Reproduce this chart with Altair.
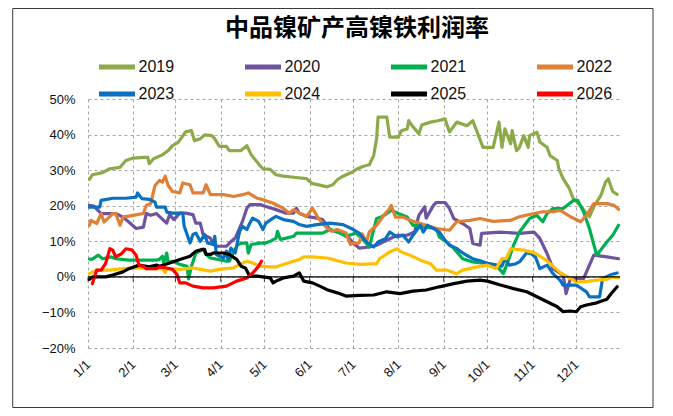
import altair as alt
import pandas as pd

title_text = "中品镍矿产高镍铁利润率"
years = ["2019", "2020", "2021", "2022", "2023", "2024", "2025", "2026"]
colors = ["#8DAA4B", "#6E53A0", "#00B050", "#E07F36", "#0A70C0", "#FFC000", "#000000", "#FF0000"]

month_days = [0, 31, 60, 91, 121, 152, 182, 213, 244, 274, 305, 335]
month_labels = ["1/1", "2/1", "3/1", "4/1", "5/1", "6/1", "7/1", "8/1", "9/1", "10/1", "11/1", "12/1"]
y_ticks = [-20, -10, 0, 10, 20, 30, 40, 50]

d19 = [1,3,10,15,22,26,31,38,41,42,45,51,55,58,62,64,67,71,73,77,80,85,87,90,95,97,105,109,112,118,120,125,129,134,141,150,154,159,164,168,171,175,181,185,189,193,196,198,199,205,207,213,215,219,220,222,227,229,235,240,245,248,253,260,264,267,271,278,282,284,286,290,291,294,296,299,302,303,308,310,315,317,322,323,326,330,333,338,341,344,347,349,352,355,357,360,363]
v19 = [27.4,28.7,29.3,30.4,30.8,32.7,33.4,33.6,33.6,31.8,33.2,34.3,35.5,36.9,37.9,39.0,40.8,41.1,38.3,38.8,39.9,39.7,38.8,36.7,36.7,35.5,35.5,36.9,34.3,31.3,30.4,30.2,28.7,28.3,28.0,27.6,26.2,25.8,25.3,25.9,27.3,28.3,29.4,30.4,31.1,31.5,34.1,38.8,44.9,44.9,39.3,39.3,41.1,41.6,43.9,42.7,40.2,42.7,43.5,43.9,44.4,40.7,43.5,42.5,43.9,40.7,36.4,36.4,43.5,36.4,41.6,37.4,41.1,35.5,36.4,39.7,36.4,39.7,40.7,37.9,36.4,34.1,32.7,30.4,27.6,25.0,22.0,20.0,18.3,16.9,19.7,21.0,23.0,26.6,27.6,24.0,23.2]

d20 = [1,4,9,19,24,28,33,38,40,43,47,49,54,56,59,63,67,72,74,77,79,84,86,89,95,97,101,104,106,109,111,118,122,129,136,141,143,145,150,157,161,166,173,177,182,186,193,198,205,212,219,224,227,231,232,237,239,245,248,251,257,262,264,269,270,283,296,306,310,315,319,326,328,331,340,342,347,356,364]
v20 = [20.1,19.9,17.8,17.8,16.8,15.4,13.6,14.0,17.8,17.3,17.8,17.0,15.1,17.5,16.1,17.9,17.9,17.5,15.1,15.1,11.9,10.9,9.1,8.6,8.6,9.5,10.9,13.7,15.6,19.3,20.3,20.3,19.8,18.9,17.9,17.9,19.3,17.9,17.0,16.5,16.1,13.3,12.3,11.9,9.5,8.1,8.4,8.9,10.3,11.7,11.7,12.6,17.3,19.7,16.5,20.1,20.9,20.9,19.2,16.4,15.0,13.6,9.4,8.9,12.2,12.6,12.2,12.6,10.8,6.5,2.3,0.5,-4.7,-0.5,-0.5,1.4,6.1,5.6,5.1]

d21 = [1,3,7,10,16,19,28,38,47,49,51,52,54,55,58,63,68,69,71,74,79,81,84,89,95,97,100,103,106,109,110,112,118,122,125,129,130,132,136,141,143,150,161,166,173,177,184,189,193,198,201,205,208,213,219,223,228,232,239,241,246,251,257,264,274,280,285,288,292,296,303,308,312,315,319,326,333,336,340,344,349,356,360,364]
v21 = [5.0,5.0,6.1,5.1,5.6,5.1,4.7,4.7,4.7,4.9,5.8,3.9,6.7,4.0,4.4,3.5,3.0,-0.6,3.0,6.7,7.7,6.3,5.3,4.9,4.4,4.4,7.2,9.1,9.5,9.5,6.7,9.1,9.5,9.5,10.0,10.9,12.8,10.5,10.9,11.4,12.3,12.3,12.3,13.3,12.3,11.4,12.3,10.3,8.4,16.4,16.8,17.8,18.7,17.8,16.8,14.5,14.5,14.0,13.6,11.2,9.8,8.0,5.1,4.2,3.7,3.3,0.9,4.2,8.9,12.6,16.4,17.3,15.5,17.8,19.2,19.2,21.5,21.5,18.3,13.6,6.1,9.8,11.7,14.5]

d22 = [1,2,6,9,11,17,19,22,24,31,38,40,43,46,49,51,53,55,58,63,65,70,72,79,81,84,93,100,106,110,116,120,127,134,138,141,145,150,154,158,164,167,171,177,180,182,186,188,191,193,198,203,207,208,211,216,221,228,232,239,248,253,262,269,278,290,296,306,312,319,324,331,338,342,347,356,361,364]
v22 = [14.5,15.9,15.0,17.8,15.4,17.8,17.8,14.5,16.8,17.3,17.8,20.1,20.6,25.7,27.1,26.6,28.3,25.7,24.0,23.6,26.4,25.9,23.6,23.6,25.9,23.1,23.1,22.6,23.1,23.6,22.1,21.7,20.7,19.3,17.9,18.9,17.9,17.0,19.3,16.5,13.7,12.8,13.3,12.3,9.1,9.5,9.5,12.1,9.8,12.6,14.5,17.3,19.2,20.1,16.8,16.8,15.9,15.0,14.5,13.6,13.1,15.5,15.9,16.4,15.6,15.9,16.9,17.8,18.3,18.3,18.7,16.9,15.5,17.3,20.6,20.6,20.1,19.0]

d23 = [1,8,9,17,26,33,34,37,42,46,47,53,54,58,65,66,70,72,74,77,80,82,86,87,88,93,95,96,98,101,104,106,109,111,113,117,120,122,127,129,134,141,145,150,157,166,175,182,186,191,196,199,204,207,212,216,220,223,228,230,233,237,241,245,248,253,256,260,264,269,274,280,284,286,289,293,296,301,304,307,310,315,319,324,326,335,342,344,351,353,358,363]
v23 = [19.6,19.6,21.5,22.1,22.1,22.4,23.6,22.0,21.8,21.0,19.6,19.6,18.2,17.9,17.9,14.2,9.5,11.9,12.3,10.0,11.9,9.5,9.1,11.4,6.3,5.3,7.2,4.9,8.1,6.7,12.8,14.2,13.3,15.1,16.5,15.6,13.3,15.1,16.5,17.0,16.1,15.6,14.7,14.2,14.7,15.1,14.7,13.3,12.3,9.8,8.4,9.8,10.7,12.6,11.2,11.7,9.8,11.7,14.5,12.6,14.5,13.6,12.6,10.3,8.9,8.0,7.0,6.0,5.1,4.5,3.8,3.3,3.0,5.1,3.3,3.6,4.2,6.8,6.5,5.6,2.3,3.3,0.9,-1.0,-2.3,-2.3,-4.2,-5.6,-5.6,-0.5,0.5,1.1]

d24 = [1,6,15,24,33,42,51,53,54,63,72,77,84,90,100,104,109,113,118,125,129,134,141,145,148,154,164,168,177,187,198,200,207,212,215,221,228,235,239,246,253,257,267,274,280,284,287,290,299,306,310,315,319,324,328,335,340,344,349,356,360,364]
v24 = [0.9,1.9,1.9,2.3,2.5,2.3,2.3,1.2,2.3,2.1,2.5,2.1,1.6,2.1,2.5,3.5,4.4,3.9,3.0,2.8,2.8,3.5,4.4,4.9,5.6,5.6,5.3,4.9,3.9,3.5,3.7,5.1,7.0,7.9,7.0,6.1,4.7,3.7,1.9,1.9,0.9,1.9,2.8,3.3,2.3,5.1,5.1,7.9,7.5,6.8,5.8,4.5,3.0,1.2,0.3,-1.4,-1.4,-1.2,-0.9,-0.7,0.0,-0.3]

d25 = [1,3,12,17,24,28,35,42,47,49,56,63,70,74,78,80,81,84,86,93,97,102,105,108,111,116,120,125,127,129,134,141,145,148,154,159,164,171,177,186,196,205,214,223,232,241,251,260,269,274,283,292,301,308,315,322,326,331,335,338,342,349,356,359,363]
v25 = [-0.7,0.0,0.0,0.5,1.4,2.3,3.3,2.8,3.3,3.0,3.9,4.9,5.8,7.2,7.7,7.7,6.3,6.3,6.7,6.7,6.3,4.9,3.0,2.5,0.2,0.2,0.0,-0.3,-1.7,-1.2,-0.3,0.2,1.1,-1.2,-1.7,-2.6,-3.6,-4.5,-5.4,-5.2,-5.1,-4.2,-4.7,-4.0,-3.7,-2.8,-1.9,-1.2,-0.9,-1.2,-2.3,-3.3,-4.2,-5.6,-7.0,-8.4,-9.8,-9.6,-9.8,-8.4,-7.9,-7.3,-6.3,-4.7,-2.8]

d26 = [3,6,9,12,15,17,19,23,26,30,33,35,38,40,47,49,54,58,61,63,67,72,79,86,95,102,109,113,117,119]
v26 = [-1.9,1.9,1.9,3.7,7.9,7.5,5.6,6.5,7.9,7.6,6.1,3.3,3.0,2.3,2.3,2.8,2.5,2.1,0.7,-1.7,-1.7,-2.6,-3.1,-3.1,-2.6,-1.2,-0.3,1.1,3.0,4.4]

series = {
    "2019": (d19, v19), "2020": (d20, v20), "2021": (d21, v21), "2022": (d22, v22),
    "2023": (d23, v23), "2024": (d24, v24), "2025": (d25, v25), "2026": (d26, v26),
}
rows = []
for yr, (ds, vs) in series.items():
    assert len(ds) == len(vs), yr
    rows += [{"year": yr, "day": d, "value": v} for d, v in zip(ds, vs)]
df = pd.DataFrame(rows)

label_expr = "''"
for d, lab in reversed(list(zip(month_days, month_labels))):
    label_expr = f"datum.value == {d} ? '{lab}' : ({label_expr})"

FONT = "Liberation Sans, Arial, sans-serif"
GRID = "#A6A6A6"

x_axis = alt.Axis(
    values=month_days, labelExpr=label_expr, title=None, grid=True,
    gridDash=[3, 3], gridColor=GRID, gridWidth=1, domain=False, ticks=False,
    labelAngle=-45, labelAlign="right", labelBaseline="middle", labelPadding=14,
    labelFont=FONT, labelFontSize=13, labelColor="#111", labelOverlap=False,
)
y_axis = alt.Axis(
    values=y_ticks, tickCount=8, labelExpr="format(datum.value / 100, '.0%')",
    title=None, grid=True, gridDash=[3, 3], gridColor=GRID, gridWidth=1,
    domain=False, ticks=False, labelPadding=13, labelFont=FONT, labelFontSize=13,
    labelColor="#111", labelOverlap=False,
)
x_scale = alt.Scale(domain=[0, 365], nice=False, zero=False)
y_scale = alt.Scale(domain=[-20, 50], nice=False, zero=False)

frame = alt.Chart(pd.DataFrame({"a": [0]})).mark_rect(
    filled=False, stroke="#3a3a3a", strokeWidth=1
).encode(
    x=alt.value(-75.3), x2=alt.value(565), y=alt.value(-90.5), y2=alt.value(308.5)
)

lines = alt.Chart(df).mark_line(
    strokeWidth=3.2, strokeJoin="round", strokeCap="round"
).encode(
    x=alt.X("day:Q", scale=x_scale, axis=x_axis),
    y=alt.Y("value:Q", scale=y_scale, axis=y_axis),
    color=alt.Color(
        "year:N",
        scale=alt.Scale(domain=years, range=colors),
        legend=alt.Legend(
            title=None, orient="none", legendX=8.5, legendY=-42, direction="horizontal",
            columns=4, symbolType="stroke", symbolSize=1296, symbolStrokeWidth=5,
            clipHeight=20, rowPadding=7, columnPadding=68, labelOffset=1,
            labelFont=FONT, labelFontSize=16, labelColor="#111", padding=0,
        ),
    ),
    order="day:Q",
)

zero = alt.Chart(pd.DataFrame({"value": [0]})).mark_rule(
    color="black", strokeWidth=1.3
).encode(y=alt.Y("value:Q", scale=y_scale, axis=y_axis))

ticks = alt.Chart(pd.DataFrame({"day": month_days, "value": [0] * len(month_days)})).mark_tick(
    orient="vertical", size=5, thickness=1, yOffset=2.5, color="black"
).encode(
    x=alt.X("day:Q", scale=x_scale, axis=x_axis),
    y=alt.Y("value:Q", scale=y_scale, axis=y_axis),
)

title = alt.Chart(pd.DataFrame({"a": [0]})).mark_text(
    text=title_text, font="Noto Sans CJK SC", fontSize=24, fontWeight="bold",
    align="center", baseline="middle", color="#000",
).encode(x=alt.value(269), y=alt.value(-70.5))

chart = alt.layer(frame, lines, zero, ticks, title).properties(
    width=532, height=249,
    autosize=alt.AutoSizeParams(type="none"),
    padding={"left": 80, "top": 91, "right": 45, "bottom": 60},
).configure_view(strokeWidth=0).configure_axisY(labelOverlap=False)

chart.save("out.html", embed_options={"renderer": "svg", "actions": False})
